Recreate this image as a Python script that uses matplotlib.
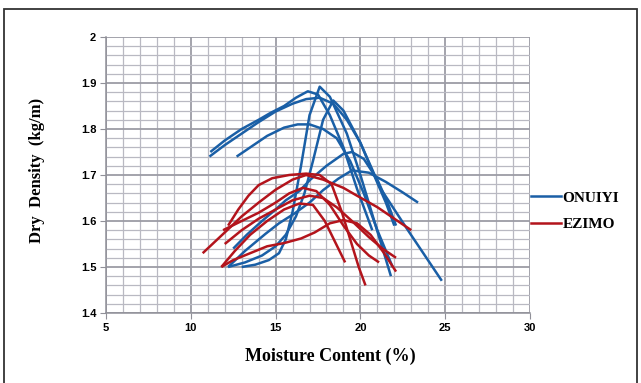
import numpy as np
import matplotlib
matplotlib.use("Agg")
import matplotlib.pyplot as plt
from matplotlib.patches import Rectangle
from matplotlib.lines import Line2D

# ONUIYI curves (moisture %, dry density)
onu_x = [
    [11.15, 12, 13, 14, 14.7, 15.5, 16.2, 16.9, 17.5, 18.2, 19, 19.8, 20.7],
    [11.1, 12, 13, 14, 15, 16, 16.8, 17.6, 18.4, 19.2, 20, 20.8, 21.5, 22.0],
    [12.7, 13.5, 14.5, 15.5, 16.3, 17, 17.8, 18.6, 19.4, 20.2, 21, 21.9],
    [13, 13.8, 14.6, 15.2, 15.6, 16.0, 16.5, 17.0, 17.6, 18.2, 19.2, 20.0, 20.9, 21.8],
    [12.2, 13.2, 14.2, 15.0, 15.6, 16.2, 16.7, 17.2, 17.8, 18.4, 19.0, 20.0, 21.2, 22.8, 24.8],
    [12.5, 13.3, 14.2, 15.0, 15.6, 16.4, 17.05, 18.0, 19.0, 19.5, 20.2, 21.0, 21.6, 22.1],
    [12.2, 13.2, 14.4, 15.2, 16.1, 17.0, 17.8, 18.7, 19.5, 20.5, 21.5, 22.5, 23.4],
]
onu_y = [
    [1.75, 1.775, 1.80, 1.82, 1.835, 1.85, 1.868, 1.882, 1.875, 1.83, 1.76, 1.67, 1.58],
    [1.74, 1.765, 1.79, 1.815, 1.838, 1.855, 1.865, 1.868, 1.855, 1.82, 1.77, 1.70, 1.64, 1.59],
    [1.74, 1.76, 1.785, 1.803, 1.81, 1.81, 1.80, 1.78, 1.73, 1.66, 1.58, 1.50],
    [1.50, 1.505, 1.515, 1.53, 1.56, 1.62, 1.72, 1.83, 1.892, 1.87, 1.79, 1.70, 1.59, 1.48],
    [1.50, 1.51, 1.525, 1.545, 1.57, 1.61, 1.66, 1.73, 1.82, 1.862, 1.84, 1.77, 1.67, 1.58, 1.47],
    [1.54, 1.57, 1.60, 1.625, 1.645, 1.665, 1.69, 1.72, 1.746, 1.75, 1.735, 1.69, 1.64, 1.59],
    [1.50, 1.535, 1.572, 1.595, 1.616, 1.64, 1.667, 1.692, 1.71, 1.705, 1.685, 1.662, 1.64],
]

# EZIMO curves
ezi_x = [
    [12.2, 12.8, 13.4, 14.0, 14.8, 15.8, 16.8, 17.6, 18.3, 18.9, 19.4, 19.9, 20.3],
    [10.7, 12, 13, 14, 15, 16, 16.8, 17.8, 19, 19.8, 21, 22, 23],
    [11.8, 12.6, 13.5, 14.5, 15.5, 16.4, 17.2, 17.9, 18.5, 19.1],
    [11.9, 13, 14, 15, 15.8, 16.6, 17.4, 18.2, 19, 19.8, 20.5, 21.1],
    [12.0, 13, 14, 15, 16, 17, 17.8, 18.6, 19.5, 20.5, 21.3, 22.1],
    [11.8, 12.5, 13.5, 14.5, 15.5, 16.5, 17.3, 18.2, 19, 19.8, 20.6, 21.4, 22.1],
]
ezi_y = [
    [1.59, 1.625, 1.655, 1.678, 1.693, 1.70, 1.703, 1.70, 1.68, 1.62, 1.56, 1.50, 1.46],
    [1.53, 1.575, 1.61, 1.64, 1.668, 1.69, 1.70, 1.69, 1.672, 1.655, 1.63, 1.605, 1.58],
    [1.50, 1.535, 1.57, 1.60, 1.625, 1.638, 1.635, 1.60, 1.555, 1.51],
    [1.58, 1.60, 1.618, 1.64, 1.66, 1.672, 1.665, 1.635, 1.59, 1.55, 1.525, 1.51],
    [1.55, 1.58, 1.605, 1.625, 1.645, 1.655, 1.65, 1.63, 1.60, 1.565, 1.54, 1.52],
    [1.50, 1.515, 1.53, 1.545, 1.552, 1.562, 1.575, 1.595, 1.602, 1.595, 1.57, 1.53, 1.49],
]

blue = "#1a5fa6"
red = "#b3141c"

fig = plt.figure(figsize=(6.41, 3.83), dpi=100)
ax = fig.add_axes([106 / 641, 1 - 313 / 383, 424 / 641, 276 / 383])

for xs, ys in zip(onu_x, onu_y):
    ax.plot(xs, ys, color=blue, lw=1.8, solid_capstyle="butt", solid_joinstyle="round")
for xs, ys in zip(ezi_x, ezi_y):
    ax.plot(xs, ys, color=red, lw=1.8, solid_capstyle="butt", solid_joinstyle="round")

ax.set_xlim(5, 30)
ax.set_ylim(1.4, 2.0)
ax.set_xticks(np.arange(5, 31, 5))
ax.set_yticks(np.round(np.arange(1.4, 2.01, 0.1), 1))
ax.set_xticks(np.arange(5, 31, 1), minor=True)
ax.set_yticks(np.arange(1.4, 2.001, 0.02), minor=True)
ax.set_xticklabels(["5", "10", "15", "20", "25", "30"])
ax.set_yticklabels(["1.4", "1.5", "1.6", "1.7", "1.8", "1.9", "2"])
ax.grid(which="minor", color="#b9b9c2", lw=0.9)
ax.grid(which="major", color="#9c9ca5", lw=1.3)
ax.set_axisbelow(True)
ax.tick_params(which="minor", length=0)
ax.tick_params(which="major", length=4, color="#909098", labelsize=8, pad=3)
for lab in ax.get_xticklabels() + ax.get_yticklabels():
    lab.set_fontweight("bold")
    lab.set_family("Liberation Sans")
for s in ["top", "right"]:
    ax.spines[s].set_visible(False)
for s in ["left", "bottom"]:
    ax.spines[s].set_color("#909098")
    ax.spines[s].set_linewidth(1.1)

fig.text(330 / 641, 1 - 356 / 383, "Moisture Content (%)", ha="center", va="center",
         family="Liberation Serif", fontweight="bold", fontsize=13)
fig.text(37 / 641, 1 - 170 / 383, "Dry  Density  (kg/m)", ha="center", va="center",
         rotation=90, family="Liberation Serif", fontweight="bold", fontsize=12)

handles = [Line2D([], [], color=blue, lw=1.8), Line2D([], [], color=red, lw=1.8)]
fig.legend(handles, ["ONUIYI", "EZIMO"], loc="upper left",
           bbox_to_anchor=(531 / 641, 1 - 191 / 383), frameon=False,
           borderpad=0, borderaxespad=0,
           handlelength=1.95, handletextpad=0.1, labelspacing=0.85,
           prop={"family": "Liberation Serif", "weight": "bold", "size": 11})

fig.patches.append(Rectangle((4 / 641, -0.05), 633 / 641, 1 - 9 / 383 + 0.05,
                             transform=fig.transFigure, fill=False,
                             edgecolor="#333333", lw=1.3))

fig.savefig("out.png", dpi=100)
